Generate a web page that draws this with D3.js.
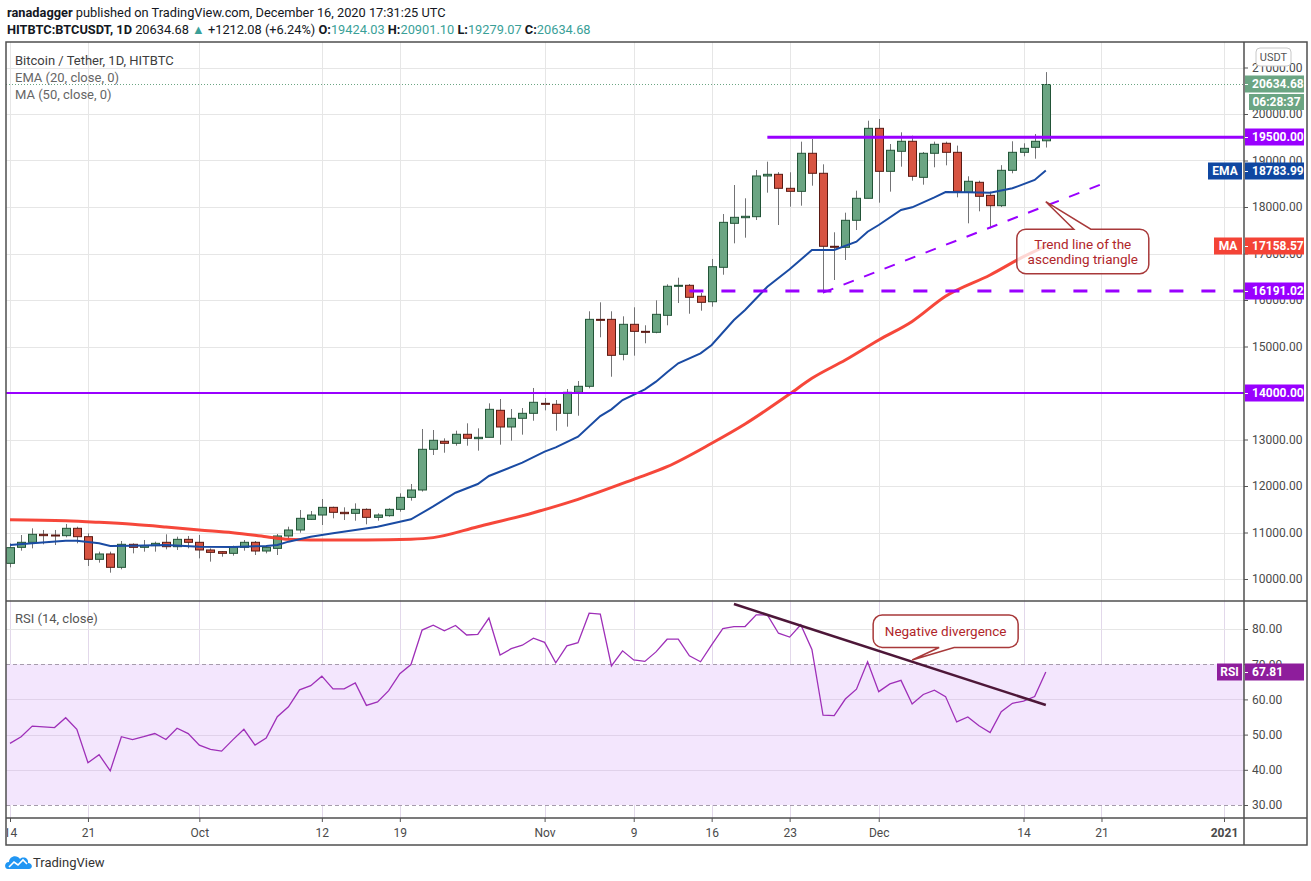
<!DOCTYPE html>
<html>
<head>
<meta charset="utf-8">
<script src="https://cdn.jsdelivr.net/npm/d3@7"></script>
<style>
  body { margin: 0; background: #fff; }
  svg { display: block; }
  text { font-family: Roboto, "Noto Sans", sans-serif; }
</style>
</head>
<body>
<svg id="chart" width="1311" height="881"></svg>
<script>
// daily candles, Sep 14 2020 .. Dec 16 2020 (index 0 = Sep 14)
const opens = [
  10337, 10681, 10789, 10961, 10946, 10932, 11090, 10910, 10423, 10538,
  10251, 10746, 10681, 10717, 10789, 10695, 10853, 10789, 10624, 10588,
  10552, 10681, 10789, 10602, 10659, 10925, 11054, 11283, 11376, 11541,
  11434, 11412, 11498, 11326, 11362, 11498, 11756, 11914, 12789, 12961,
  12918, 13112, 13018, 13047, 13628, 13269, 13456, 13563, 13778, 13757,
  13563, 14015, 14144, 15584, 15584, 14832, 15477, 15326, 15305, 15670,
  16295, 16316, 16080, 15963, 16703, 17649, 17770, 17792, 18667, 18703,
  18402, 18337, 19155, 18725, 17155, 17133, 17714, 18187, 19692, 18767,
  19198, 19413, 18638, 19155, 19370, 19176, 18316, 18531, 18251, 18028,
  18789, 19176, 19284, 19424.03
];
const highs = [
  10767, 10946, 11090, 11054, 11054, 11183, 11125, 10982, 10588, 10588,
  10817, 10767, 10839, 10803, 10961, 10910, 10925, 10946, 10659, 10602,
  10717, 10839, 10817, 10731, 10968, 11125, 11484, 11462, 11720, 11556,
  11541, 11627, 11520, 11412, 11520, 11842, 12043, 13226, 13204, 13025,
  13190, 13348, 13240, 13778, 13871, 13656, 13677, 14108, 13892, 13849,
  14086, 14258, 15757, 15950, 15757, 15649, 15843, 15456, 15993, 16337,
  16480, 16344, 16150, 16882, 17849, 18473, 18187, 18796, 18975, 18750,
  18746, 19405, 19462, 18918, 17456, 17878, 18351, 19856, 19892, 19355,
  19606, 19534, 19183, 19405, 19405, 19320, 18660, 18566, 18330, 18900,
  19413, 19370, 19570, 20901.10
];
const lows = [
  10251, 10609, 10659, 10746, 10731, 10896, 10767, 10280, 10351, 10136,
  10208, 10552, 10588, 10588, 10638, 10624, 10659, 10444, 10373, 10480,
  10502, 10609, 10516, 10552, 10516, 10853, 10996, 11269, 11161, 11305,
  11269, 11254, 11176, 11254, 11340, 11448, 11685, 11880, 12667, 12716,
  12867, 12867, 12760, 13047, 12889, 12975, 13104, 13404, 13627, 13190,
  13276, 13512, 14101, 15198, 14350, 14703, 14803, 15069, 15284, 15456,
  15935, 15705, 15770, 15856, 16544, 17219, 17340, 17720, 18308, 17613,
  18007, 18028, 18458, 16144, 16430, 16860, 17505, 18187, 18093, 18330,
  18867, 18566, 18480, 18854, 18896, 18208, 17649, 17907, 17541, 18000,
  18725, 19090, 19039, 19279.07
];
const closes = [
  10674, 10789, 10961, 10932, 10932, 11090, 10910, 10423, 10538, 10251,
  10746, 10681, 10717, 10767, 10695, 10853, 10789, 10624, 10573, 10552,
  10681, 10789, 10602, 10681, 10925, 11054, 11305, 11376, 11541, 11434,
  11405, 11498, 11326, 11376, 11498, 11756, 11914, 12789, 12983, 12918,
  13112, 13026, 13047, 13649, 13269, 13456, 13563, 13800, 13757, 13563,
  14015, 14144, 15584, 15563, 14810, 15477, 15326, 15305, 15692, 16295,
  16316, 16058, 15950, 16716, 17670, 17778, 17800, 18667, 18703, 18402,
  18337, 19155, 18725, 17155, 17133, 17714, 18187, 19692, 18767, 19220,
  19413, 18660, 19155, 19348, 19176, 18337, 18553, 18230, 18028, 18789,
  19176, 19262, 19413, 20634.68
];
const rsiValues = [
  47.5, 49.4, 52.4, 52.2, 52.0, 54.8, 51.5, 42.0, 44.3, 39.7,
  49.4, 48.6, 49.4, 50.3, 48.6, 51.8, 50.3, 47.0, 45.8, 45.3,
  48.5, 51.5, 47.0, 49.0, 55.1, 57.9, 62.7, 63.9, 66.6, 63.0,
  63.0, 64.7, 58.3, 59.3, 62.5, 67.3, 69.9, 79.7, 81.1, 79.5,
  81.0, 78.3, 78.5, 83.1, 72.6, 74.4, 75.4, 77.4, 76.2, 70.4,
  75.2, 76.1, 84.5, 84.2, 69.5, 73.8, 71.2, 70.8, 73.5, 77.1,
  77.1, 72.4, 70.7, 75.5, 80.1, 80.7, 80.7, 84.0, 84.0, 78.8,
  77.7, 81.2, 74.2, 55.5, 55.4, 60.1, 62.9, 70.7, 62.2, 64.4,
  65.4, 58.7, 61.4, 62.6, 60.8, 53.6, 55.0, 52.5, 50.6, 56.5,
  58.9, 59.5, 60.8, 67.81
];
// EMA(20) and MA(50) at these day indexes
const emaDays = [0, 2, 5, 6, 8, 9, 11, 14, 17, 20, 23, 24, 25, 27, 29, 31, 33, 36, 38, 40,
  42, 43, 46, 48, 49, 51, 53, 54, 55, 57, 58, 59, 60, 62, 63, 65, 66, 68, 70, 72,
  74, 76, 77, 78, 80, 81, 83, 84, 86, 88, 90, 92, 93];
const emaValues = [10731, 10767, 10824, 10824, 10767, 10710, 10716, 10731, 10695, 10688,
  10710, 10731, 10803, 10910, 10982, 11054, 11125, 11283, 11560, 11856,
  12043, 12215, 12502, 12738, 12832, 13060, 13505, 13649, 13849, 14079,
  14244, 14445, 14638, 14853, 15032, 15570, 15785, 16286, 16660, 17075,
  17075, 17254, 17469, 17613, 17935, 17993, 18208, 18323, 18316, 18308,
  18402, 18581, 18783.99];
const maDays = [0, 5, 8, 11, 14, 17, 20, 23, 25, 27, 32, 36, 38, 42, 47, 51, 56, 59, 63, 66,
  70, 72, 75, 78, 81, 84, 88, 91, 93];
const maValues = [11275, 11254, 11219, 11176, 11118, 11054, 10996, 10910, 10853, 10839,
  10839, 10855, 10890, 11125, 11426, 11713, 12143, 12415, 12918, 13333,
  13978, 14315, 14709, 15140, 15540, 16080, 16538, 16932, 17158.57];

const priceTicks = d3.range(10000, 21001, 1000);
const rsiTicks = [30, 40, 50, 60, 70, 80];
const timeTickDates = ["2020-09-14", "2020-09-21", "2020-10-01", "2020-10-12", "2020-10-19",
  "2020-11-01", "2020-11-09", "2020-11-16", "2020-11-23", "2020-12-01", "2020-12-14",
  "2020-12-21", "2021-01-01"];
const timeTickLabels = ["14", "21", "Oct", "12", "19", "Nov", "9", "16", "23", "Dec", "14", "21", "2021"];

const levels = [19500, 16191.02, 14000];
const trendPoints = [["2020-11-26", 16160], ["2020-12-21", 18490]];
const divergencePoints = [["2020-11-18", 87.1], ["2020-12-16", 58.4]];

const day = i => new Date(Date.UTC(2020, 8, 14 + i));
const candles = opens.map((o, i) => ({ date: day(i), o, h: highs[i], l: lows[i], c: closes[i] }));

const svg = d3.select("#chart");
const L = 6, R = 1244, AX = 1307;
const mainTop = 42, mainBot = 601, rsiBot = 818, timeBot = 845;

const x = d3.scaleUtc().domain([day(0), new Date(Date.UTC(2021, 0, 1))]).range([10, 1224]);
const y = d3.scaleLinear().domain([10000, 21000]).range([579, 67.5]);
const yR = d3.scaleLinear().domain([30, 80]).range([805, 629]);
const timeTicks = timeTickDates.map(s => new Date(s + "T00:00:00Z"));
const px = v => Math.round(v) + 0.5;

const defs = svg.append("defs");
defs.append("clipPath").attr("id", "clipAll")
  .append("rect").attr("x", L).attr("y", mainTop).attr("width", R - L).attr("height", rsiBot - mainTop);
// clip for the time axis, in the axis group's own coordinates
defs.append("clipPath").attr("id", "clipTime")
  .append("rect").attr("x", L + 1).attr("y", 0).attr("width", R - L).attr("height", timeBot - rsiBot);

// header
const head = svg.append("g").attr("font-size", 12.8).attr("fill", "#131722");
head.append("text").attr("x", 7).attr("y", 17)
  .call(t => {
    t.append("tspan").attr("font-weight", "bold").text("ranadagger");
    t.append("tspan").text(" published on TradingView.com, December 16, 2020 17:31:25 UTC");
  });
const teal = "#3a9f98";
head.append("text").attr("x", 7).attr("y", 34)
  .call(t => {
    t.append("tspan").attr("font-weight", "bold").text("HITBTC:BTCUSDT, 1D");
    t.append("tspan").text("  20634.68 ");
    t.append("tspan").attr("fill", teal).text("▲");
    t.append("tspan").text(" +1212.08 (+6.24%) ");
    [["O:", "19424.03"], ["H:", "20901.10"], ["L:", "19279.07"], ["C:", "20634.68"]].forEach(([k, v]) => {
      t.append("tspan").attr("font-weight", "bold").text(k);
      t.append("tspan").attr("fill", teal).text(v + " ");
    });
  });

// grid
const grid = svg.append("g");
grid.selectAll("line.hg").data(priceTicks).join("line")
  .attr("x1", L).attr("x2", R).attr("y1", d => px(y(d))).attr("y2", d => px(y(d)))
  .attr("stroke", "#e6e6e6");
grid.selectAll("line.vg").data(timeTicks).join("line")
  .attr("y1", mainTop).attr("y2", rsiBot).attr("x1", d => px(x(d))).attr("x2", d => px(x(d)))
  .attr("stroke", "#e6e6e6");

// RSI band
svg.append("rect").attr("x", L).attr("width", R - L)
  .attr("y", yR(70)).attr("height", yR(30) - yR(70)).attr("fill", "#f3e6fd");
svg.append("g").selectAll("line").data([40, 50, 60, 80]).join("line")
  .attr("x1", L).attr("x2", R).attr("y1", d => px(yR(d))).attr("y2", d => px(yR(d)))
  .attr("stroke", d => d === 80 ? "#e6e6e6" : "#e0d2ea");
grid.selectAll("line.vr").data(timeTicks).join("line")
  .attr("y1", mainBot).attr("y2", rsiBot).attr("x1", d => px(x(d))).attr("x2", d => px(x(d)))
  .attr("stroke", "#e2d8ea");
svg.append("g").selectAll("line").data([70, 30]).join("line")
  .attr("x1", L).attr("x2", R).attr("y1", d => px(yR(d))).attr("y2", d => px(yR(d)))
  .attr("stroke", "#a69cac").attr("stroke-dasharray", "4,3");

const plot = svg.append("g").attr("clip-path", "url(#clipAll)");

// candles
const up = d => d.c >= d.o;
plot.append("g").selectAll("line").data(candles).join("line")
  .attr("x1", d => px(x(d.date))).attr("x2", d => px(x(d.date)))
  .attr("y1", d => y(d.h)).attr("y2", d => y(d.l))
  .attr("stroke", "#737375").attr("stroke-width", 1);
plot.append("g").selectAll("rect").data(candles).join("rect")
  .attr("x", d => Math.round(x(d.date)) - 3.5).attr("width", 8)
  .attr("y", d => y(Math.max(d.o, d.c)))
  .attr("height", d => Math.max(1, Math.abs(y(d.o) - y(d.c))))
  .attr("fill", d => up(d) ? "#6ba583" : "#d75442")
  .attr("stroke", d => up(d) ? "#225437" : "#5b1a13").attr("stroke-width", 1);

// moving averages
const ema = emaDays.map((d, i) => [day(d), emaValues[i]]);
const ma = maDays.map((d, i) => [day(d), maValues[i]]);
plot.append("path").datum(ma)
  .attr("d", d3.line().x(d => x(d[0])).y(d => y(d[1])).curve(d3.curveMonotoneX))
  .attr("fill", "none").attr("stroke", "#f53d2f").attr("stroke-width", 3).attr("stroke-opacity", 0.95);
plot.append("path").datum(ema)
  .attr("d", d3.line().x(d => x(d[0])).y(d => y(d[1])))
  .attr("fill", "none").attr("stroke", "#1a4ba3").attr("stroke-width", 2);

// RSI line
plot.append("path").datum(rsiValues)
  .attr("d", d3.line().x((d, i) => x(day(i))).y(d => yR(d)))
  .attr("fill", "none").attr("stroke", "#9e2fb8").attr("stroke-width", 1.3);

// last price dotted line
plot.append("line").attr("x1", L).attr("x2", R)
  .attr("y1", px(y(closes[closes.length - 1]))).attr("y2", px(y(closes[closes.length - 1])))
  .attr("stroke", "#6ba583").attr("stroke-dasharray", "1,2");

// horizontal levels
const violet = "#9900ff";
plot.append("line").attr("x1", x(day(68.7))).attr("x2", R)
  .attr("y1", y(levels[0])).attr("y2", y(levels[0]))
  .attr("stroke", violet).attr("stroke-width", 3);
plot.append("line").attr("x1", x(day(61.8))).attr("x2", R)
  .attr("y1", y(levels[1])).attr("y2", y(levels[1]))
  .attr("stroke", violet).attr("stroke-width", 3).attr("stroke-dasharray", "14,18");
plot.append("line").attr("x1", L).attr("x2", R)
  .attr("y1", y(levels[2])).attr("y2", y(levels[2]))
  .attr("stroke", violet).attr("stroke-width", 2);

// ascending trend line
const tp = trendPoints.map(([s, v]) => [x(new Date(s + "T00:00:00Z")), y(v)]);
plot.append("line").attr("x1", tp[0][0]).attr("y1", tp[0][1]).attr("x2", tp[1][0]).attr("y2", tp[1][1])
  .attr("stroke", violet).attr("stroke-width", 2).attr("stroke-dasharray", "11,11");

// RSI divergence line
const dp = divergencePoints.map(([s, v]) => [x(new Date(s + "T00:00:00Z")), yR(v)]);
plot.append("line").attr("x1", dp[0][0]).attr("y1", dp[0][1]).attr("x2", dp[1][0]).attr("y2", dp[1][1])
  .attr("stroke", "#4d1738").attr("stroke-width", 2.5);

// callouts
function callout(box, tail, lines, fs) {
  const { x0, y0, x1, y1 } = box, r = 9;
  const p = d3.path();
  p.moveTo(x0 + r, y0);
  if (tail.side === "top") { p.lineTo(tail.a, y0); p.lineTo(tail.tx, tail.ty); p.lineTo(tail.c, y0); }
  p.lineTo(x1 - r, y0); p.arcTo(x1, y0, x1, y0 + r, r);
  p.lineTo(x1, y1 - r); p.arcTo(x1, y1, x1 - r, y1, r);
  if (tail.side === "bottom") { p.lineTo(tail.c, y1); p.lineTo(tail.tx, tail.ty); p.lineTo(tail.a, y1); }
  p.lineTo(x0 + r, y1); p.arcTo(x0, y1, x0, y1 - r, r);
  p.lineTo(x0, y0 + r); p.arcTo(x0, y0, x0 + r, y0, r);
  p.closePath();
  const g = svg.append("g");
  g.append("path").attr("d", p.toString())
    .attr("fill", "rgba(255,255,255,0.78)").attr("stroke", "#a8393a").attr("stroke-width", 1.5);
  const cx = (x0 + x1) / 2, cy = (y0 + y1) / 2;
  g.append("text").attr("text-anchor", "middle").attr("font-size", fs).attr("fill", "#b0262a")
    .selectAll("tspan").data(lines).join("tspan")
    .attr("x", cx).attr("y", (d, i) => cy + (i - (lines.length - 1) / 2) * 15).attr("dy", "0.35em")
    .text(d => d);
}
const tTip = [x(day(93.7)), y(18114)];
callout({ x0: tTip[0] - 29, y0: tTip[1] + 27.5, x1: tTip[0] + 103, y1: tTip[1] + 72 },
  { side: "top", a: tTip[0] + 28, c: tTip[0] + 45, tx: tTip[0], ty: tTip[1] },
  ["Trend line of the", "ascending triangle"], 13.5);
const nTip = [x(day(81.1)), yR(71.2)];
callout({ x0: nTip[0] - 39, y0: nTip[1] - 45, x1: nTip[0] + 106, y1: nTip[1] - 12.5 },
  { side: "bottom", a: nTip[0] + 27, c: nTip[0] + 42, tx: nTip[0], ty: nTip[1] },
  ["Negative divergence"], 13.5);

// pane labels
const lab = svg.append("g").attr("font-size", 13);
lab.append("text").attr("x", 15).attr("y", 65).attr("fill", "#3d3d3d").text("Bitcoin / Tether, 1D, HITBTC");
lab.append("text").attr("x", 15).attr("y", 82).attr("fill", "#666").text("EMA (20, close, 0)");
lab.append("text").attr("x", 15).attr("y", 99).attr("fill", "#666").text("MA (50, close, 0)");
lab.append("text").attr("x", 15).attr("y", 623).attr("fill", "#555").text("RSI (14, close)");

// right price axis
const styleAxis = g => {
  g.select(".domain").remove();
  g.selectAll(".tick line").attr("stroke", "#555");
  g.selectAll(".tick text").attr("fill", "#4a4a4a").attr("font-size", 12)
    .attr("font-family", "Roboto, 'Noto Sans', sans-serif");
};
svg.append("g").attr("transform", `translate(${R},0)`)
  .call(d3.axisRight(y).tickValues(priceTicks).tickFormat(d3.format(".2f")).tickSize(4).tickPadding(4))
  .call(styleAxis);
svg.append("g").attr("transform", `translate(${R},0)`)
  .call(d3.axisRight(yR).tickValues(rsiTicks).tickFormat(d3.format(".2f")).tickSize(4).tickPadding(4))
  .call(styleAxis);

// time axis
const timeAxis = svg.append("g").attr("transform", `translate(0,${rsiBot})`)
  .attr("clip-path", "url(#clipTime)")
  .call(d3.axisBottom(x).tickValues(timeTicks).tickFormat((d, i) => timeTickLabels[i]).tickSize(4).tickPadding(6))
  .call(styleAxis);
timeAxis.selectAll(".tick text").attr("font-weight", (d, i) => timeTickLabels[i] === "2021" ? "bold" : null);

// price tags on the axis
function tag(yv, text, color, prefix, prefixX) {
  const g = svg.append("g");
  const cy = Math.round(yv);
  g.append("rect").attr("x", R + 1).attr("y", cy - 8.5).attr("width", 59).attr("height", 17).attr("fill", color);
  g.append("line").attr("x1", R).attr("x2", R + 4).attr("y1", cy + 0.5).attr("y2", cy + 0.5).attr("stroke", "#fff");
  g.append("text").attr("x", R + 8).attr("y", cy).attr("dy", "0.36em").attr("font-size", 12)
    .attr("font-weight", "bold").attr("fill", "#fff").text(text);
  if (prefix) {
    g.append("rect").attr("x", prefixX).attr("y", cy - 8.5).attr("width", R - 2 - prefixX).attr("height", 17).attr("fill", color);
    g.append("text").attr("x", (prefixX + R - 2) / 2).attr("y", cy).attr("dy", "0.36em").attr("text-anchor", "middle")
      .attr("font-size", 12).attr("font-weight", "bold").attr("fill", "#fff").text(prefix);
  }
}
tag(y(levels[1]), "16191.02", violet);
tag(y(levels[2]), "14000.00", violet);
tag(y(17158.57), "17158.57", "#f44336", "MA", 1214);
tag(y(18783.99), "18783.99", "#0f47a1", "EMA", 1208);
tag(y(levels[0]), "19500.00", violet);
tag(y(closes[closes.length - 1]), "20634.68", "#6ba583");
tag(yR(rsiValues[rsiValues.length - 1]), "67.81", "#8e1d9c", "RSI", 1217);
// countdown box
svg.append("rect").attr("x", 1249).attr("y", 94).attr("width", 55).attr("height", 16).attr("fill", "#6ba583");
svg.append("text").attr("x", 1276.5).attr("y", 102).attr("dy", "0.36em").attr("text-anchor", "middle")
  .attr("font-size", 12).attr("font-weight", "bold").attr("fill", "#fff").text("06:28:37");
// currency badge
svg.append("rect").attr("x", 1256).attr("y", 48).attr("width", 35).attr("height", 18).attr("rx", 4)
  .attr("fill", "#fff").attr("stroke", "#c8c8c8");
svg.append("text").attr("x", 1273.5).attr("y", 57).attr("dy", "0.36em").attr("text-anchor", "middle")
  .attr("font-size", 11).attr("fill", "#555").text("USDT");

// frame
const frame = svg.append("g").attr("stroke", "#4f4f4f").attr("stroke-width", 1.5).attr("fill", "none");
frame.append("rect").attr("x", L).attr("y", mainTop).attr("width", AX - L).attr("height", timeBot - mainTop);
frame.append("line").attr("x1", R).attr("x2", R).attr("y1", mainTop).attr("y2", timeBot);
frame.append("line").attr("x1", L).attr("x2", AX).attr("y1", mainBot).attr("y2", mainBot);
frame.append("line").attr("x1", L).attr("x2", AX).attr("y1", rsiBot).attr("y2", rsiBot);

// TradingView mark
const logo = svg.append("g").attr("transform", "translate(5,854)");
logo.append("path").attr("d", "M3,15 C-1,15 -1,8 4,8 C4,2 12,0 15,5 C18,2 24,4 23,9 C28,9 28,15 24,15 Z")
  .attr("fill", "#2196f3");
logo.append("path").attr("d", "M4,13 L9,8 L13,11 L18,6 L22,10").attr("fill", "none")
  .attr("stroke", "#fff").attr("stroke-width", 1.6);
svg.append("text").attr("x", 33).attr("y", 867).attr("font-size", 13).attr("fill", "#333").text("TradingView");
</script>
</body>
</html>
